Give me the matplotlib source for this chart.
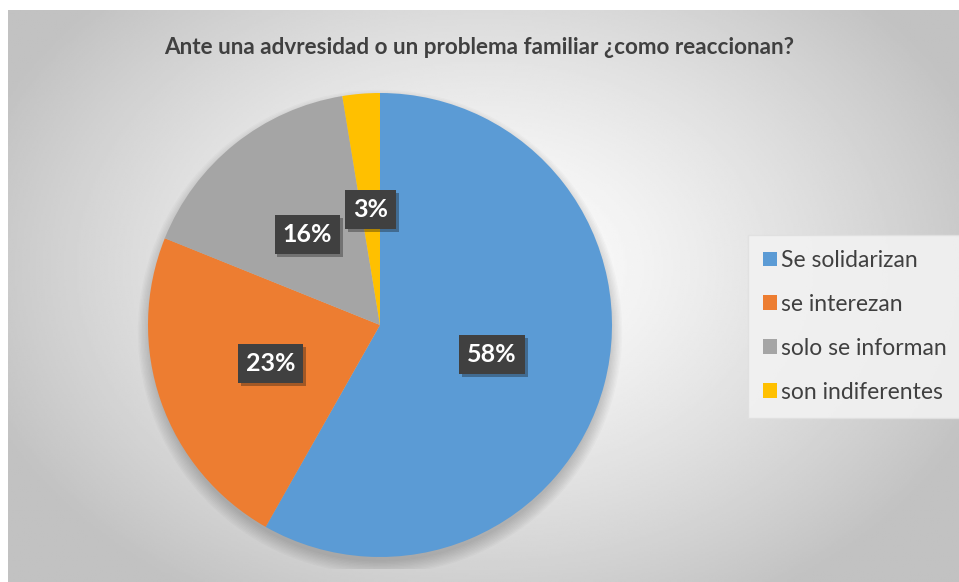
import numpy as np
import matplotlib.pyplot as plt
from matplotlib.patches import Circle
from matplotlib.patheffects import SimplePatchShadow, Normal

categories = ["Se solidarizan", "se interezan", "solo se informan", "son indiferentes"]
values = [58.2, 22.9, 16.3, 2.6]
colors = ["#5B9BD5", "#ED7D31", "#A5A5A5", "#FFC000"]
title = "Ante una advresidad o un problema familiar ¿como reaccionan?"

plt.rcParams['font.family'] = ['Lato', 'DejaVu Sans']

W, H = 959, 582
fig = plt.figure(figsize=(W / 100, H / 100), dpi=100)
fig.patch.set_facecolor("white")

# radial gradient background of the chart area
bg = fig.add_axes([8 / W, 0, (W - 8) / W, (H - 10) / H])
yy, xx = np.mgrid[0:1:300j, 0:1:500j]
d = np.sqrt(((xx - 0.5) / 0.75) ** 2 + ((yy - 0.45) / 0.9) ** 2)
shade = 1.0 - 0.24 * np.clip(d / 0.75, 0, 1) ** 1.3
bg.imshow(shade, cmap="gray", vmin=0, vmax=1, extent=[0, 1, 0, 1],
          aspect="auto", origin="upper")
bg.set_axis_off()

cx, cy, r = 380, 325, 232
ax = fig.add_axes([(cx - r * 1.05) / W, (H - cy - r * 1.05) / H, 2.1 * r / W, 2.1 * r / H])

# soft shadow behind the pie, mostly below
for i in range(10):
    ax.add_patch(Circle((0.0, -0.03), 0.99 + 0.006 * i, color="black",
                        alpha=0.02, lw=0, zorder=0))

wedges, texts, autotexts = ax.pie(
    values, colors=colors, startangle=90, counterclock=False,
    autopct=lambda p: f"{p:.0f}%", pctdistance=0.5,
    wedgeprops=dict(linewidth=0), radius=1.0,
    textprops=dict(color="white", fontsize=18, fontweight="bold"))
for t in autotexts:
    t.set_bbox(dict(boxstyle="square,pad=0.32", facecolor="#404040",
                    edgecolor="none"))
    t.get_bbox_patch().set_path_effects(
        [SimplePatchShadow(offset=(2, -2), alpha=0.35), Normal()])
ax.set_xlim(-1.05, 1.05)
ax.set_ylim(-1.05, 1.05)
ax.set_aspect("equal")
ax.set_axis_off()

fig.text(0.5, (H - 47) / H, title, ha="center", va="center",
         fontsize=16.2, fontweight="bold", color="#404040")

leg = fig.legend(wedges, categories, loc="upper left",
                 bbox_to_anchor=(748 / W, (H - 235) / H),
                 fontsize=16.5, frameon=True, fancybox=False,
                 handlelength=0.6, handleheight=0.6, handletextpad=0.2,
                 labelspacing=1.0, borderpad=0.65, borderaxespad=0,
                 labelcolor="#404040")
leg.get_frame().set_facecolor("#F2F2F2")
leg.get_frame().set_edgecolor("#E0E0E0")
leg.get_frame().set_alpha(0.9)

fig.savefig("out.png", dpi=100, facecolor="white")
